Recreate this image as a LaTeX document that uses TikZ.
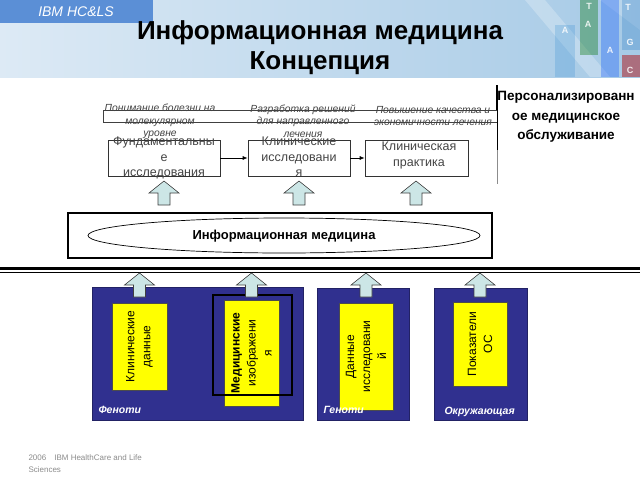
\documentclass[tikz,border=0pt]{standalone}
\usepackage{fontspec}
\setmainfont{Liberation Sans}
\usetikzlibrary{arrows.meta,shapes.geometric}
\definecolor{navy}{HTML}{30308F}
\definecolor{ylw}{HTML}{FFFF00}
\definecolor{arrfill}{HTML}{CCE6E6}
\definecolor{hdrL}{HTML}{DDEAF5}
\definecolor{hdrR}{HTML}{A6CAE6}
\definecolor{ibmblue}{HTML}{5B8FD6}
\definecolor{txtgrey}{HTML}{444444}
\definecolor{footgrey}{HTML}{8C8C8C}
\tikzset{
  boxst/.style={draw=black!80, line width=0.7pt, inner sep=0pt, fill=white},
  boxtxt/.style={align=center, text=txtgrey, font=\fontsize{12.5}{15.5}\selectfont},
  itx/.style={align=center, text=txtgrey, font=\itshape\fontsize{10.3}{12.5}\selectfont},
  panel/.style={fill=navy, draw=navy!70!black, line width=0.4pt, inner sep=0pt},
  ybox/.style={fill=ylw, draw=black!70, line width=0.5pt, inner sep=0pt},
  ytxt/.style={rotate=90, align=center, font=\fontsize{12}{16}\selectfont},
  plabel/.style={anchor=west, text=white, font=\bfseries\itshape\fontsize{10.5}{12}\selectfont},
  blkarrow/.style={fill=arrfill, draw=black!75, line width=0.6pt},
  blockup/.pic={\path[blkarrow] (-6,0) -- (-6,-12) -- (-15,-12) -- (0,-24) -- (15,-12) -- (6,-12) -- (6,0) -- cycle;},
  dna/.style={text=white, opacity=0.85, font=\bfseries\fontsize{9}{10}\selectfont}
}
\begin{document}
\begin{tikzpicture}[x=1pt,y=-1pt]
\useasboundingbox (0,0) rectangle (640,480);
\fill[white] (0,0) rectangle (640,480);
% header band
\shade[left color=hdrL, right color=hdrR] (0,0) rectangle (640,77);
\fill[white, opacity=0.25] (525,0) -- (545,0) -- (610,77) -- (590,77) -- cycle;
\fill[white, opacity=0.2] (600,0) -- (640,0) -- (640,30) -- cycle;
\fill[cyan!60!blue, opacity=0.2] (555,25) rectangle (575,77);
\fill[green!45!black, opacity=0.35] (580,0) rectangle (598,55);
\fill[blue!70!cyan, opacity=0.3] (601,0) rectangle (619,77);
\fill[red!70!black, opacity=0.45] (622,55) rectangle (640,77);
\fill[cyan!50!blue, opacity=0.25] (622,0) rectangle (640,50);
\node[dna] (d1) at (589,6) {T};
\node[dna] (d2) at (588,24) {A};
\node[dna] (d3) at (628,7) {T};
\node[dna] (d4) at (565,30) {A};
\node[dna] (d5) at (630,42) {G};
\node[dna] (d6) at (610,50) {A};
\node[dna] (d7) at (630,70) {C};
\fill[ibmblue] (0,0) rectangle (153,23);
\node[text=white, font=\itshape\fontsize{14}{16}\selectfont] (ibm) at (76,12) {IBM HC\&LS};
\node[font=\bfseries\fontsize{26}{30}\selectfont] (t1) at (320,33) {Информационная медицина};
\node[font=\bfseries\fontsize{26}{30}\selectfont] (t2) at (320,63) {Концепция};
% bracket and goal
\coordinate (vtop) at (497,85);
\coordinate (vmid) at (497,150);
\coordinate (vbot) at (497,184);
\draw[line width=1.4pt] (vtop) -- (497,110);
\draw[line width=0.9pt] (497,110) -- (vmid);
\draw[line width=0.6pt, black!45] (vmid) -- (vbot);
\draw[line width=0.7pt, black!75] (497,110) -- (103,110) -- (103,122) -- (497,122);
\node[itx] (l1) at (160,121.5) {Понимание болезни на\\молекулярном\\уровне};
\node[itx] (l2) at (303,121) {Разработка решений\\для направленного\\лечения};
\node[itx] (l3) at (433,116) {Повышение качества и\\экономичности лечения};
\node[align=center, font=\bfseries\fontsize{13.5}{19.5}\selectfont] (goal) at (566,117) {Персонализированн\\ое медицинское\\обслуживание};
% stage boxes
\node[boxst, minimum width=112pt, minimum height=36pt] (b1) at (164,158) {};
\node[boxst, minimum width=102pt, minimum height=36pt] (b2) at (299,158) {};
\node[boxst, minimum width=103pt, minimum height=36pt] (b3) at (416.5,158) {};
\node[boxtxt] (b1t) at (164,158) {Фундаментальны\\е\\исследования};
\node[boxtxt] (b2t) at (299,157) {Клинические\\исследовани\\я};
\node[boxtxt] (b3t) at (419,155.5) {Клиническая\\практика};
\draw[-{Latex[length=5pt,width=4pt]}, line width=0.7pt] (b1.east) -- (b2.west);
\draw[-{Latex[length=5pt,width=4pt]}, line width=0.7pt] (b2.east) -- (b3.west);
% block arrows top
\pic at (164,205) {blockup};
\pic at (299,205) {blockup};
\pic at (416,205) {blockup};
% information medicine
\node[draw, line width=1.2pt, minimum width=424pt, minimum height=45pt, inner sep=0pt] (im) at (280,235.5) {};
\node[draw, ellipse, line width=0.7pt, minimum width=392pt, minimum height=35pt, inner sep=0pt] (ell) at (284,235.5) {};
\node[font=\bfseries\fontsize{13}{15}\selectfont] (imt) at (284,236) {Информационная медицина};
% divider
\coordinate (dl) at (0,268);
\coordinate (dr) at (640,268);
\draw[line width=3pt] (dl) -- (dr);
\draw[line width=0.9pt] (0,272.5) -- (640,272.5);
% panels
\node[panel, minimum width=211pt, minimum height=133pt] (p1) at (197.5,353.5) {};
\node[panel, minimum width=92pt, minimum height=132pt] (p2) at (363,354) {};
\node[panel, minimum width=93pt, minimum height=132pt] (p3) at (480.5,354) {};
\node[ybox, minimum width=55pt, minimum height=87pt] (y1) at (139.5,346.5) {};
\node[ybox, minimum width=55pt, minimum height=106pt] (y2) at (251.5,353) {};
\node[ybox, minimum width=54pt, minimum height=107pt] (y3) at (366,356.5) {};
\node[ybox, minimum width=54pt, minimum height=84pt] (y4) at (480,344) {};
\node[draw=black, line width=1.6pt, minimum width=79pt, minimum height=100pt, inner sep=0pt] (fr) at (252.5,345) {};
\node[ytxt] (y1t) at (y1) {Клинические\\данные};
\node[ytxt] (y2t) at (y2) {\textbf{Медицинские}\\изображени\\я};
\node[ytxt] (y3t) at (y3) {Данные\\исследовани\\й};
\node[ytxt] (y4t) at (y4) {Показатели\\ОС};
\node[plabel] (pl1) at (95,410) {Феноти};
\node[plabel] (pl2) at (320,410) {Геноти};
\node[plabel] (pl3) at (441,412) {Окружающая};
% block arrows bottom
\pic at (139.5,297) {blockup};
\pic at (251.5,297) {blockup};
\pic at (366,297) {blockup};
\pic at (480,297) {blockup};
% footer
\node[anchor=north west, align=left, text=footgrey, font=\fontsize{8}{12}\selectfont] (foot) at (25,451) {2006\quad IBM HealthCare and Life\\Sciences};
\end{tikzpicture}
\end{document}
